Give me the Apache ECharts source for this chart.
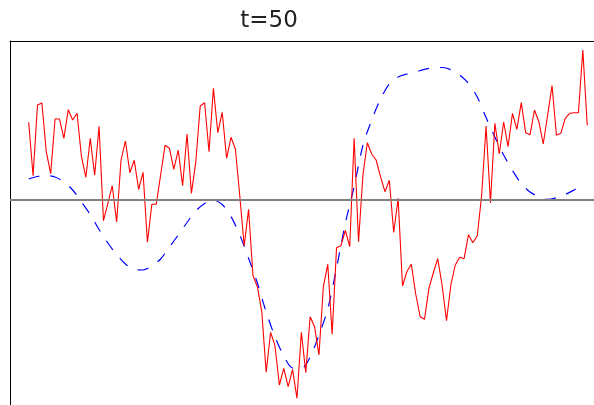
<!DOCTYPE html>
<html>
<head>
<meta charset="utf-8">
<script src="https://cdn.jsdelivr.net/npm/echarts@6/dist/echarts.min.js"></script>
<style>html,body{margin:0;padding:0;background:#fff}#c{width:594px;height:405px}</style>
</head>
<body>
<div id="c"></div>
<script>
const titleText = "t=50";
const noisyValues = [0.777,0.243,0.95,0.97,0.483,0.263,0.81,0.81,0.617,0.903,0.80,0.867,0.433,0.227,0.617,0.247,0.737,-0.207,-0.033,0.143,-0.22,0.40,0.59,0.273,0.397,0.105,0.277,-0.423,-0.043,-0.043,0.25,0.547,0.517,0.307,0.50,0.143,0.66,0.067,0.383,0.94,0.973,0.483,1.117,0.673,0.877,0.417,0.627,0.51,0.04,-0.457,-0.093,-0.757,-0.867,-1.117,-1.723,-1.323,-1.457,-1.85,-1.683,-1.867,-1.693,-1.983,-1.323,-1.727,-1.167,-1.267,-1.55,-0.867,-0.643,-1.343,-0.477,-0.457,-0.305,-0.467,0.617,-0.417,0.25,0.573,0.46,0.40,0.233,0.083,0.197,-0.325,0.017,-0.86,-0.715,-0.643,-0.94,-1.167,-1.192,-0.883,-0.73,-0.587,-0.85,-1.207,-0.847,-0.65,-0.573,-0.587,-0.347,-0.427,-0.358,0.05,0.74,-0.027,0.767,0.46,0.78,0.533,0.867,0.707,0.973,0.673,0.653,0.90,0.783,0.56,0.85,1.143,0.647,0.667,0.817,0.867,0.873,0.873,1.50,0.747];
const smoothX = [0,2,4,6,8,10,12,14,16,18,20,22,24,26,28,30,32,34,36,38,40,42,44,46,48,50,52,54,56,58,60,62,64,66,68,70,72,74,76,78,80,82,84,86,88,90,92,94,96,98,100,102,104,106,108,110,112,114,116,118,120,122,124,126];
const smoothValues = [0.21,0.235,0.245,0.23,0.18,0.10,-0.02,-0.145,-0.295,-0.43,-0.545,-0.64,-0.695,-0.70,-0.66,-0.59,-0.47,-0.35,-0.225,-0.11,-0.035,0.0,-0.045,-0.165,-0.35,-0.583,-0.83,-1.12,-1.367,-1.56,-1.68,-1.685,-1.57,-1.35,-1.09,-0.68,-0.233,0.133,0.547,0.80,1.01,1.16,1.23,1.26,1.28,1.307,1.322,1.325,1.303,1.25,1.165,1.03,0.825,0.63,0.45,0.295,0.165,0.08,0.033,0.006,0.023,0.055,0.10,0.15];

const redData = noisyValues.map((v, i) => [i, v]);
const blueData = smoothX.map((x, i) => [x, smoothValues[i]]);

const chart = echarts.init(document.getElementById('c'), null, {renderer: 'canvas'});
chart.setOption({
  animation: false,
  backgroundColor: '#ffffff',
  title: {
    text: titleText,
    left: 264, top: 5,
    textAlign: 'center',
    textStyle: {fontFamily: 'DejaVu Sans', fontSize: 23, fontWeight: 'normal', color: '#222'}
  },
  grid: {left: 10, top: 41, right: 0, bottom: 0},
  xAxis: {
    type: 'value', position: 'top', min: -4.25, max: 128.54,
    axisLine: {show: true, onZero: false, lineStyle: {color: '#000', width: 1}},
    axisTick: {show: false}, axisLabel: {show: false}, splitLine: {show: false}
  },
  yAxis: {
    type: 'value', min: -2.05, max: 1.59,
    axisLine: {show: true, onZero: false, lineStyle: {color: '#000', width: 1}},
    axisTick: {show: false}, axisLabel: {show: false}, splitLine: {show: false}
  },
  series: [
    {
      type: 'line', data: blueData, smooth: 0.3, symbol: 'none', z: 2,
      lineStyle: {color: '#0000ff', width: 1.2, type: [11, 11]},
      markLine: {
        silent: true, symbol: 'none', label: {show: false},
        lineStyle: {color: '#808080', width: 2, type: 'solid'},
        data: [{yAxis: 0}]
      }
    },
    {
      type: 'line', data: redData, symbol: 'none', z: 3,
      lineStyle: {color: '#ff0000', width: 1.1}
    }
  ]
});
</script>
</body>
</html>
